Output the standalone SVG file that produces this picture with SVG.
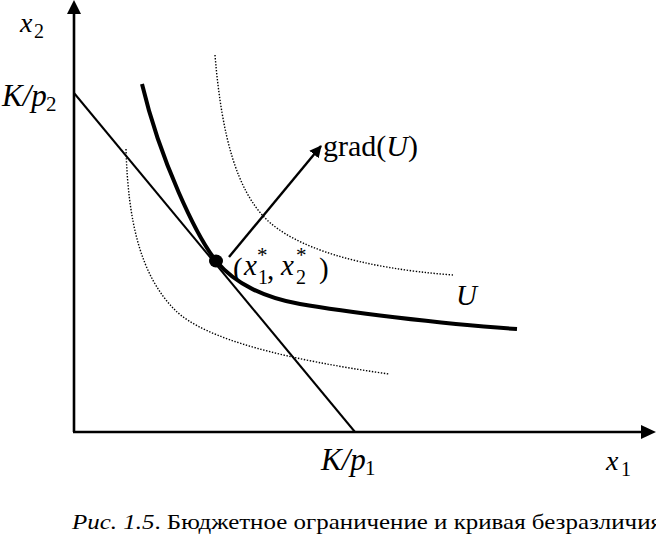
<svg xmlns="http://www.w3.org/2000/svg" width="656" height="536" viewBox="0 0 656 536">
<style>
text{font-family:"Liberation Serif","Times New Roman",serif;fill:#000}
.it{font-style:italic}
.ax{stroke:#000;stroke-width:2.6;fill:none}
.thin{stroke:#000;stroke-width:2;fill:none}
.thick{stroke:#000;stroke-width:4;fill:none}
.dot{stroke:#000;stroke-width:1.4;fill:none;stroke-dasharray:1.4 1.6}
</style>
<defs>
<marker id="ah" markerWidth="12" markerHeight="12" refX="11" refY="6" orient="auto" markerUnits="userSpaceOnUse" viewBox="0 0 12 12">
<path d="M0,0 L12,6 L0,12 z" fill="#000"/>
</marker>
</defs>
<rect width="656" height="536" fill="#fff"/>
<g id="axes">
<line class="ax" x1="74" y1="432" x2="74" y2="12"/>
<path d="M67,14 L74,0 L81,14 z" fill="#000"/>
<line class="ax" x1="73" y1="432" x2="643" y2="432"/>
<path d="M641,425 L656,432 L641,439 z" fill="#000"/>
</g>
<g id="connectors">
<line id="budget" class="thin" x1="74" y1="93" x2="355" y2="432"/>
<path id="indiff-low" class="dot" d="M126,149 C128,220 140,275 175,310 C205,340 290,360 389,374"/>
<path id="indiff-high" class="dot" d="M215,55 C222,140 238,190 265,218 C295,248 360,268 453,275"/>
<path id="indiff-U" class="thick" d="M142,84 C160,160 197,238 217,262 C235,283.6 265,298 300,304 C340,311 440,324 517,329"/>
<line id="grad" stroke="#000" stroke-width="2.4" x1="229" y1="257" x2="321" y2="146" marker-end="url(#ah)"/>
</g>
<g id="optimum">
<ellipse cx="216" cy="261" rx="7" ry="6.5" fill="#000"/>
</g>
<g id="labels">
<text x="20" y="32" font-size="28" class="it">x</text><text x="34" y="38" font-size="20">2</text>
<text x="2" y="106" font-size="31" class="it">K/p</text><text x="46" y="111" font-size="21">2</text>
<text x="323" y="156" font-size="30">grad(<tspan class="it">U</tspan>)</text>
<text x="233" y="278" font-size="29">(</text>
<text x="244" y="275" font-size="29" class="it">x</text>
<text x="258" y="284" font-size="20">1</text>
<text x="257" y="262" font-size="21">*</text>
<text x="267" y="279" font-size="29">,</text>
<text x="281" y="275" font-size="29" class="it">x</text>
<text x="296" y="284" font-size="20">2</text>
<text x="296" y="262" font-size="21">*</text>
<text x="319" y="278" font-size="29">)</text>
<text x="456" y="305" font-size="29" class="it">U</text>
<text x="321" y="470" font-size="31" class="it">K/p</text><text x="365" y="475" font-size="21">1</text>
<text x="606" y="470" font-size="28" class="it">x</text><text x="621" y="476" font-size="20">1</text>
</g>
<g id="caption">
<text x="72" y="529" font-size="22" textLength="590" lengthAdjust="spacingAndGlyphs"><tspan class="it">Рис. 1.5</tspan>. Бюджетное ограничение и кривая безразличия</text>
</g>
</svg>
